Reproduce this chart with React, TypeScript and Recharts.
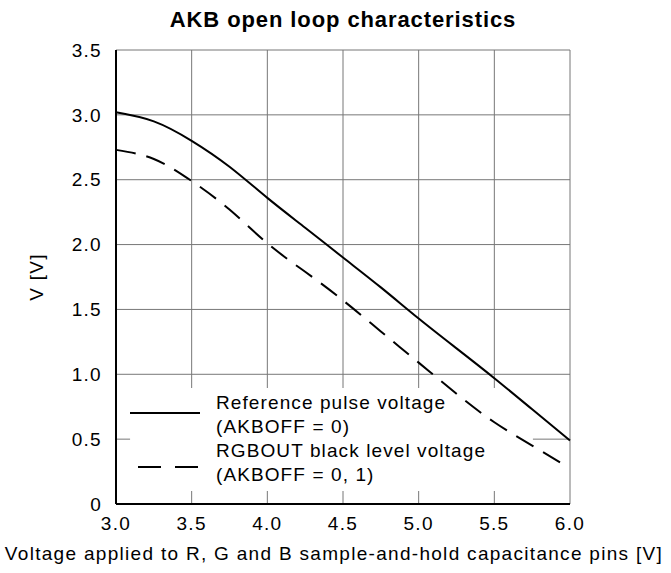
import React from "react";
import { CartesianGrid, Legend, Line, LineChart, ReferenceArea, XAxis, YAxis } from "recharts";

const refPulseX = [3.0, 3.25, 3.5, 3.75, 4.0, 4.25, 4.5, 4.75, 5.0, 5.25, 5.5, 5.75, 6.0];
const refPulseV = [3.02, 2.95, 2.8, 2.6, 2.36, 2.13, 1.9, 1.67, 1.43, 1.2, 0.97, 0.73, 0.49];

const blackLevelX = [3.0, 3.25, 3.5, 3.75, 4.0, 4.25, 4.5, 4.75, 5.0, 5.25, 5.5, 5.75, 5.95];
const blackLevelV = [2.73, 2.66, 2.49, 2.27, 2.01, 1.79, 1.57, 1.33, 1.09, 0.85, 0.63, 0.45, 0.31];

const xTicks = [3.0, 3.5, 4.0, 4.5, 5.0, 5.5, 6.0];
const yTicks = [0, 0.5, 1.0, 1.5, 2.0, 2.5, 3.0, 3.5];

const refPulseData = refPulseX.map((x, i) => ({ x, v: refPulseV[i] }));
const blackLevelData = blackLevelX.map((x, i) => ({ x, v: blackLevelV[i] }));

const FONT = "'Liberation Sans', Arial, Helvetica, sans-serif";
const tickStyle = { fontSize: 19, fill: "#000", letterSpacing: 1.3 };

// legend sits on a white patch that hides the grid but not the curves
const LegendBox = () => (
  <div
    style={{
      width: 403,
      height: 103,
      position: "relative",
      fontFamily: FONT,
      fontSize: 19,
      letterSpacing: 1.1,
      color: "#000",
      lineHeight: "24px",
    }}
  >
    <svg width={70} height={103} style={{ position: "absolute", left: 0, top: 0 }}>
      <line x1={0} x2={70} y1={25} y2={25} stroke="#000" strokeWidth={2} />
      <line x1={8} x2={70} y1={79} y2={79} stroke="#000" strokeWidth={2} strokeDasharray="23 14" />
    </svg>
    <div style={{ position: "absolute", left: 86, top: 3, whiteSpace: "nowrap" }}>
      <div>Reference pulse voltage</div>
      <div>(AKBOFF = 0)</div>
      <div>RGBOUT black level voltage</div>
      <div>(AKBOFF = 0, 1)</div>
    </div>
  </div>
);

export default function App() {
  return (
    <div style={{ position: "absolute", left: 0, top: 0, fontFamily: FONT, background: "#fff" }}>
      <div
        style={{
          position: "absolute",
          left: 116,
          width: 454,
          top: 6,
          textAlign: "center",
          fontSize: 22,
          fontWeight: "bold",
          letterSpacing: 0.9,
          lineHeight: "28px",
          color: "#000",
        }}
      >
        AKB open loop characteristics
      </div>
      <LineChart width={671} height={573} margin={{ top: 50, right: 101, left: 56, bottom: 39 }}>
        <CartesianGrid stroke="#777" strokeWidth={1} />
        <ReferenceArea
          x1={3.093}
          x2={5.755}
          y1={0.1}
          y2={0.894}
          fill="#fff"
          fillOpacity={1}
          stroke="none"
        />
        <XAxis
          dataKey="x"
          type="number"
          domain={[3, 6]}
          ticks={xTicks}
          tickFormatter={(v) => v.toFixed(1)}
          tick={tickStyle}
          tickLine={false}
          tickSize={6}
          tickMargin={7}
          axisLine={{ stroke: "#000", strokeWidth: 2 }}
          height={30}
          label={{
            content: ({ viewBox }: any) => (
              <text
                x={viewBox.x + viewBox.width / 2 - 9}
                y={viewBox.y + 56}
                textAnchor="middle"
                fontSize={19}
                letterSpacing={1.3}
                fill="#000"
              >
                Voltage applied to R, G and B sample-and-hold capacitance pins [V]
              </text>
            ),
          }}
        />
        <XAxis
          xAxisId="top"
          orientation="top"
          type="number"
          domain={[3, 6]}
          ticks={xTicks}
          tick={false}
          tickLine={false}
          height={0}
          axisLine={{ stroke: "#000", strokeWidth: 2 }}
        />
        <YAxis
          type="number"
          domain={[0, 3.5]}
          ticks={yTicks}
          tickFormatter={(v) => (v === 0 ? "0" : v.toFixed(1))}
          tick={tickStyle}
          tickLine={false}
          tickSize={6}
          tickMargin={8}
          axisLine={{ stroke: "#000", strokeWidth: 2 }}
          width={60}
          label={{
            content: ({ viewBox }: any) => {
              const cx = viewBox.x - 20;
              const cy = viewBox.y + viewBox.height / 2;
              return (
                <text
                  x={cx}
                  y={cy}
                  textAnchor="middle"
                  dominantBaseline="central"
                  transform={`rotate(-90 ${cx} ${cy})`}
                  fontSize={19}
                  letterSpacing={1.3}
                  fill="#000"
                >
                  V [V]
                </text>
              );
            },
          }}
        />
        <YAxis
          yAxisId="right"
          orientation="right"
          type="number"
          domain={[0, 3.5]}
          ticks={yTicks}
          tick={false}
          tickLine={false}
          width={0}
          axisLine={{ stroke: "#000", strokeWidth: 2 }}
        />
        <Legend
          layout="vertical"
          align="center"
          verticalAlign="middle"
          content={() => <LegendBox />}
          wrapperStyle={{ position: "absolute", left: 130, top: 388, width: 403, height: 103 }}
        />
        <Line
          data={refPulseData}
          dataKey="v"
          type="natural"
          stroke="#000"
          strokeWidth={2}
          dot={false}
          isAnimationActive={false}
          name="Reference pulse voltage (AKBOFF = 0)"
        />
        <Line
          data={blackLevelData}
          dataKey="v"
          type="natural"
          stroke="#000"
          strokeWidth={2}
          strokeDasharray="20 11"
          dot={false}
          isAnimationActive={false}
          name="RGBOUT black level voltage (AKBOFF = 0, 1)"
        />
      </LineChart>
    </div>
  );
}
